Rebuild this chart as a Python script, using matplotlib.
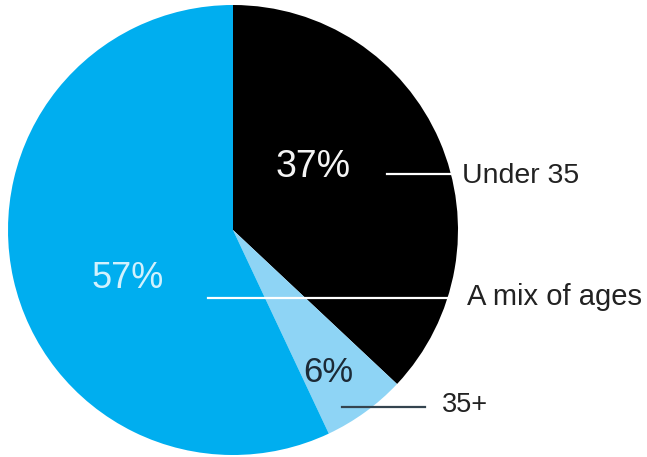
import matplotlib.pyplot as plt

labels = ["Under 35", "35+", "A mix of ages"]
shares = [37, 6, 57]
colors = ["#000000", "#8ed4f5", "#00aeef"]
pct_colors = ["#f4f4f4", "#1c2a36", "#d2f1fd"]

W, H = 647, 457
plt.rcParams['font.family'] = ['Liberation Sans', 'DejaVu Sans']

fig = plt.figure(figsize=(W / 100, H / 100), dpi=100)
ax = fig.add_axes([0, 0, 1, 1])

cx, cy, r = 233, H - 230, 225
ax.pie(shares, colors=colors, startangle=90, counterclock=False,
       center=(cx, cy), radius=r, frame=True,
       wedgeprops=dict(linewidth=0))
ax.set_xlim(0, W)
ax.set_ylim(0, H)
ax.set_aspect('equal')
ax.axis('off')

# percentage labels: centre x, baseline y (pixels from top-left)
pct_pos = [(313, 177), (328, 382), (128, 288)]
pct_size = [27, 25, 26]
for val, (x, y), c, fs in zip(shares, pct_pos, pct_colors, pct_size):
    ax.text(x, H - y, f"{val}%", color=c, fontsize=fs,
            ha='center', va='baseline')

# leader lines and category labels
leaders = [((387, 452), 174, "#ffffff"), ((342, 425), 407, "#34444f"),
           ((208, 453), 298, "#ffffff")]
label_pos = [(462, 183), (442, 412), (467, 305)]
label_size = [20.5, 19.5, 21]
for lab, ((x0, x1), y, lc), (tx, ty), fs in zip(labels, leaders, label_pos, label_size):
    ax.plot([x0, x1], [H - y, H - y], color=lc, lw=1.6)
    ax.text(tx, H - ty, lab, color="#222222", fontsize=fs,
            ha='left', va='baseline')

fig.savefig("out.png", dpi=100)
